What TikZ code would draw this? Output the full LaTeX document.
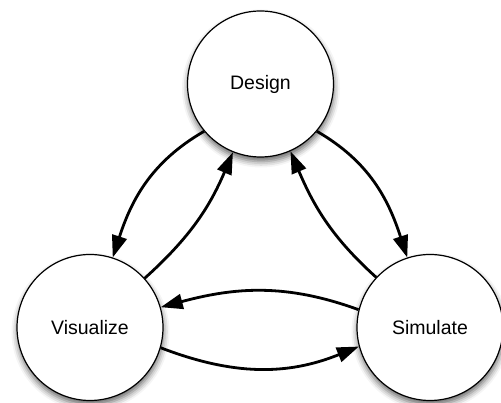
\documentclass[tikz,border=0pt]{standalone}
\usepackage{fontspec}
\setmainfont{Liberation Sans}
\usetikzlibrary{arrows.meta,shadows.blur}
\begin{document}
\begin{tikzpicture}[x=1pt,y=1pt,
  stage/.style={circle,draw=black,line width=1.2pt,fill=white,minimum size=146pt,inner sep=0pt,
    font=\fontsize{19.5}{23}\selectfont,
    blur shadow={shadow xshift=0.5pt,shadow yshift=-4.5pt,shadow blur radius=6pt,shadow opacity=60}},
  flow/.style={line width=2.8pt,-{Triangle[length=22pt,width=15pt]}}]
\useasboundingbox (0,0) rectangle (501,403);
\node[stage] (D) at (260.5,319) {Design};
\node[stage] (V) at (90,75.5) {Visualize};
\node[stage] (S) at (430,75.5) {Simulate};
\draw[flow] (D.220) to[out=210,in=72] (V.72);
\draw[flow] (V.42) to[out=42,in=247] (D.248);
\draw[flow] (D.320) to[out=330,in=108] (S.108);
\draw[flow] (S.137) to[out=138,in=293] (D.294);
\draw[flow] (S.166) to[out=160,in=15] (V.16);
\draw[flow] (V.344) to[out=-21,in=202] (S.195);
\end{tikzpicture}
\end{document}
